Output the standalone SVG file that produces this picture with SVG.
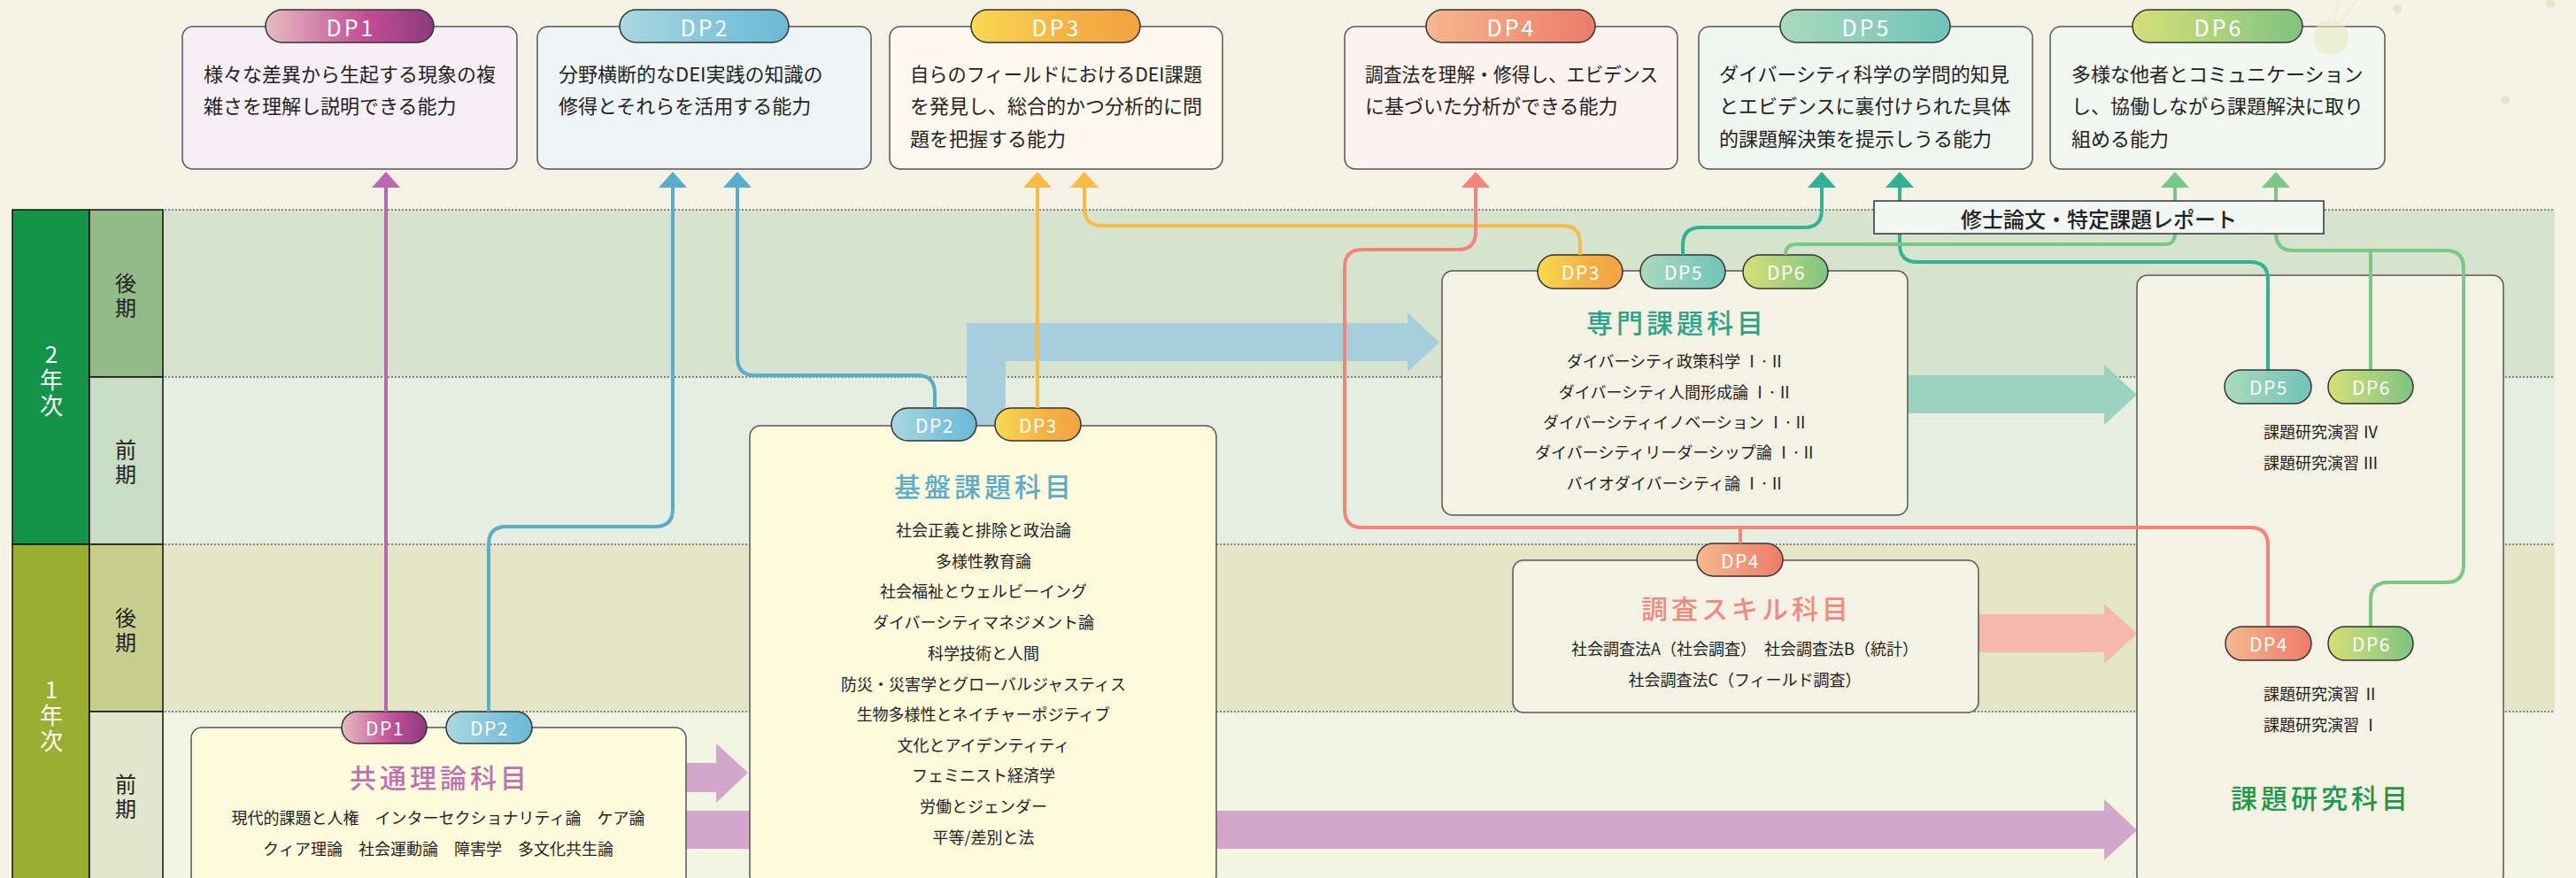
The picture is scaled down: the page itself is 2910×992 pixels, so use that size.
<svg xmlns="http://www.w3.org/2000/svg" width="2910" height="992" viewBox="0 0 2910 992">
<style>
text{font-family:"Noto Sans CJK JP","Noto Sans",sans-serif;fill:#222;dominant-baseline:central}
.dpt{font-size:22px}
.it{font-size:18px;text-anchor:middle}
.ti{font-size:30px;text-anchor:middle;letter-spacing:4px;font-weight:500}
.pt{font-size:21px;fill:#fff;text-anchor:middle;letter-spacing:1.5px}
.pt2{font-size:25px;fill:#fff;text-anchor:middle;letter-spacing:3px}
.pill{stroke:#333;stroke-width:1.5}
.box{stroke:#555;stroke-width:1.5}
.conn{fill:none;stroke-width:4}
.dot{stroke:#666;stroke-width:1.5;stroke-dasharray:2 2}
.cell{stroke:#111;stroke-width:1.5}
.yr{font-size:26px;fill:#fff;text-anchor:middle;writing-mode:vertical-rl;text-orientation:upright;letter-spacing:3px}
.sm{font-size:24px;text-anchor:middle;writing-mode:vertical-rl;text-orientation:upright;letter-spacing:4px}
</style>
<defs>
<linearGradient id="g1" x1="0" x2="1"><stop offset="0" stop-color="#e6bcc0"/><stop offset="0.6" stop-color="#c24e96"/><stop offset="1" stop-color="#8c3a80"/></linearGradient>
<linearGradient id="g2" x1="0" x2="1"><stop offset="0" stop-color="#a9d8df"/><stop offset="0.6" stop-color="#80c4dc"/><stop offset="1" stop-color="#6cb9d6"/></linearGradient>
<linearGradient id="g3" x1="0" x2="1"><stop offset="0" stop-color="#f7da52"/><stop offset="0.6" stop-color="#f5b044"/><stop offset="1" stop-color="#f2a342"/></linearGradient>
<linearGradient id="g4" x1="0" x2="1"><stop offset="0" stop-color="#f6b88e"/><stop offset="1" stop-color="#ed7b6a"/></linearGradient>
<linearGradient id="g5" x1="0" x2="1"><stop offset="0" stop-color="#abd9bd"/><stop offset="1" stop-color="#6fc4b8"/></linearGradient>
<linearGradient id="g6" x1="0" x2="1"><stop offset="0" stop-color="#d6e076"/><stop offset="1" stop-color="#7fc482"/></linearGradient>
<marker id="m1" markerUnits="userSpaceOnUse" viewBox="0 0 18 32" markerWidth="18" markerHeight="32" refX="12" refY="16" orient="auto"><path d="M0,0 L18,16 L0,32 Z" fill="#bb68b0"/></marker>
<marker id="m2" markerUnits="userSpaceOnUse" viewBox="0 0 18 32" markerWidth="18" markerHeight="32" refX="12" refY="16" orient="auto"><path d="M0,0 L18,16 L0,32 Z" fill="#5aaccb"/></marker>
<marker id="m3" markerUnits="userSpaceOnUse" viewBox="0 0 18 32" markerWidth="18" markerHeight="32" refX="12" refY="16" orient="auto"><path d="M0,0 L18,16 L0,32 Z" fill="#f8bb45"/></marker>
<marker id="m4" markerUnits="userSpaceOnUse" viewBox="0 0 18 32" markerWidth="18" markerHeight="32" refX="12" refY="16" orient="auto"><path d="M0,0 L18,16 L0,32 Z" fill="#ef857b"/></marker>
<marker id="m5" markerUnits="userSpaceOnUse" viewBox="0 0 18 32" markerWidth="18" markerHeight="32" refX="12" refY="16" orient="auto"><path d="M0,0 L18,16 L0,32 Z" fill="#2fb393"/></marker>
<marker id="m6" markerUnits="userSpaceOnUse" viewBox="0 0 18 32" markerWidth="18" markerHeight="32" refX="12" refY="16" orient="auto"><path d="M0,0 L18,16 L0,32 Z" fill="#7cc686"/></marker>
</defs>

<rect x="0" y="0" width="2910" height="992" fill="#f5f3e5"/>

<g id="timetable">
<rect x="184" y="237" width="2702" height="189" fill="#d6e3cf"/>
<rect x="184" y="426" width="2702" height="189" fill="#e6eee2"/>
<rect x="184" y="615" width="2702" height="189" fill="#e2e5c6"/>
<rect x="184" y="804" width="2702" height="190" fill="#f1f3e3"/>
<line class="dot" x1="186" y1="237" x2="2886" y2="237"/>
<line class="dot" x1="186" y1="426" x2="2886" y2="426"/>
<line class="dot" x1="186" y1="615" x2="2886" y2="615"/>
<line class="dot" x1="186" y1="804" x2="2886" y2="804"/>
<rect class="cell" x="14" y="237" width="87" height="378" fill="#14934a"/>
<rect class="cell" x="14" y="615" width="87" height="380" fill="#9aae32"/>
<rect class="cell" x="101" y="237" width="83" height="189" fill="#93bb88"/>
<rect class="cell" x="101" y="426" width="83" height="189" fill="#c9dcc4"/>
<rect class="cell" x="101" y="615" width="83" height="189" fill="#c8cf8e"/>
<rect class="cell" x="101" y="804" width="83" height="190" fill="#e2e6cc"/>
<text class="yr" x="58" y="431">2年次</text>
<text class="yr" x="58" y="810">1年次</text>
<text class="sm" x="142" y="336">後期</text>
<text class="sm" x="142" y="524">前期</text>
<text class="sm" x="142" y="714">後期</text>
<text class="sm" x="142" y="902">前期</text>
</g>

<g id="flow-arrows">
<path d="M1092,481 V365 H1590 V353 L1626,387 L1590,420 V408 H1136 V481 Z" fill="#a6cedc"/>
<path d="M2155,424 H2377 V412 L2414,446 L2377,480 V467 H2155 Z" fill="#9ad3bf"/>
<path d="M2235,694 H2377 V682 L2414,716 L2377,750 V737 H2235 Z" fill="#f6b8ad"/>
<path d="M775,862 H809 V840 L845,873 L809,907 V895 H775 Z" fill="#d3a6cc"/>
<path d="M775,916 H2377 V903 L2414,938 L2377,972 V959 H775 Z" fill="#d3a6cc"/>
</g>

<g id="dp1">
<rect class="box" x="206" y="30" width="378" height="161" rx="12" fill="#f6eff5"/>
<rect class="pill" x="300" y="11" width="190" height="37" rx="18.5" fill="url(#g1)"/>
<text class="pt2" x="396.5" y="30">DP1</text>
<text class="dpt" x="230" y="82">様々な差異から生起する現象の複</text>
<text class="dpt" x="230" y="118">雑さを理解し説明できる能力</text>
</g>
<g id="dp2">
<rect class="box" x="607" y="30" width="377" height="161" rx="12" fill="#eff5f6"/>
<rect class="pill" x="700" y="11" width="191" height="37" rx="18.5" fill="url(#g2)"/>
<text class="pt2" x="796.5" y="30">DP2</text>
<text class="dpt" x="631" y="82">分野横断的なDEI実践の知識の</text>
<text class="dpt" x="631" y="118">修得とそれらを活用する能力</text>
</g>
<g id="dp3">
<rect class="box" x="1005" y="30" width="376" height="161" rx="12" fill="#fdf9ee"/>
<rect class="pill" x="1097" y="11" width="191" height="37" rx="18.5" fill="url(#g3)"/>
<text class="pt2" x="1193.5" y="30">DP3</text>
<text class="dpt" x="1028" y="82" textLength="330" lengthAdjust="spacingAndGlyphs">自らのフィールドにおけるDEI課題</text>
<text class="dpt" x="1028" y="118">を発見し、総合的かつ分析的に問</text>
<text class="dpt" x="1028" y="155">題を把握する能力</text>
</g>
<g id="dp4">
<rect class="box" x="1519" y="30" width="376" height="161" rx="12" fill="#fdf2ee"/>
<rect class="pill" x="1611" y="11" width="191" height="37" rx="18.5" fill="url(#g4)"/>
<text class="pt2" x="1707.5" y="30">DP4</text>
<text class="dpt" x="1542" y="82" textLength="331" lengthAdjust="spacingAndGlyphs">調査法を理解・修得し、エビデンス</text>
<text class="dpt" x="1542" y="118">に基づいた分析ができる能力</text>
</g>
<g id="dp5">
<rect class="box" x="1919" y="30" width="377" height="161" rx="12" fill="#f0f6f2"/>
<rect class="pill" x="2011" y="11" width="192" height="37" rx="18.5" fill="url(#g5)"/>
<text class="pt2" x="2108.5" y="30">DP5</text>
<text class="dpt" x="1942" y="82">ダイバーシティ科学の学問的知見</text>
<text class="dpt" x="1942" y="118">とエビデンスに裏付けられた具体</text>
<text class="dpt" x="1942" y="155">的課題解決策を提示しうる能力</text>
</g>
<g id="dp6">
<rect class="box" x="2316" y="30" width="378" height="161" rx="12" fill="#f2f7f1"/>
<rect class="pill" x="2409" y="11" width="192" height="37" rx="18.5" fill="url(#g6)"/>
<text class="pt2" x="2506.5" y="30">DP6</text>
<text class="dpt" x="2340" y="82">多様な他者とコミュニケーション</text>
<text class="dpt" x="2340" y="118">し、協働しながら課題解決に取り</text>
<text class="dpt" x="2340" y="155">組める能力</text>
</g>

<g id="kyotsu">
<rect class="box" x="216" y="822" width="559" height="180" rx="12" fill="#fefcdc"/>
<rect class="pill" x="386" y="804" width="96" height="36" rx="18" fill="url(#g1)"/>
<text class="pt" x="435" y="822">DP1</text>
<rect class="pill" x="504" y="804" width="97" height="36" rx="18" fill="url(#g2)"/>
<text class="pt" x="553" y="822">DP2</text>
<text class="ti" x="497" y="877" style="fill:#c070b0">共通理論科目</text>
<text class="it" x="495" y="923">現代的課題と人権　インターセクショナリティ論　ケア論</text>
<text class="it" x="495" y="958">クィア理論　社会運動論　障害学　多文化共生論</text>
</g>

<g id="kiban">
<rect class="box" x="847" y="481" width="527" height="520" rx="12" fill="#fefbdc"/>
<rect class="pill" x="1007" y="461" width="96" height="37" rx="18.5" fill="url(#g2)"/>
<text class="pt" x="1056" y="479.5">DP2</text>
<rect class="pill" x="1124" y="461" width="97" height="37" rx="18.5" fill="url(#g3)"/>
<text class="pt" x="1173" y="479.5">DP3</text>
<text class="ti" x="1112" y="548" style="fill:#5aaccb">基盤課題科目</text>
<text class="it" x="1111" y="598">社会正義と排除と政治論</text>
<text class="it" x="1111" y="633">多様性教育論</text>
<text class="it" x="1111" y="667">社会福祉とウェルビーイング</text>
<text class="it" x="1111" y="702">ダイバーシティマネジメント論</text>
<text class="it" x="1111" y="737">科学技術と人間</text>
<text class="it" x="1111" y="772">防災・災害学とグローバルジャスティス</text>
<text class="it" x="1111" y="806">生物多様性とネイチャーポジティブ</text>
<text class="it" x="1111" y="841">文化とアイデンティティ</text>
<text class="it" x="1111" y="875">フェミニスト経済学</text>
<text class="it" x="1111" y="910">労働とジェンダー</text>
<text class="it" x="1111" y="945">平等/差別と法</text>
</g>

<g id="senmon">
<rect class="box" x="1629" y="306" width="526" height="276" rx="12" fill="#f4f2e4"/>
<rect class="pill" x="1737" y="288" width="96" height="38" rx="19" fill="url(#g3)"/>
<text class="pt" x="1786" y="307">DP3</text>
<rect class="pill" x="1853" y="288" width="96" height="38" rx="19" fill="url(#g5)"/>
<text class="pt" x="1902" y="307">DP5</text>
<rect class="pill" x="1969" y="288" width="96" height="38" rx="19" fill="url(#g6)"/>
<text class="pt" x="2018" y="307">DP6</text>
<text class="ti" x="1894" y="363" style="fill:#2aa58a">専門課題科目</text>
<text class="it" x="1893" y="407">ダイバーシティ政策科学 Ⅰ·Ⅱ</text>
<text class="it" x="1893" y="442">ダイバーシティ人間形成論 Ⅰ·Ⅱ</text>
<text class="it" x="1893" y="476">ダイバーシティイノベーション Ⅰ·Ⅱ</text>
<text class="it" x="1893" y="510">ダイバーシティリーダーシップ論 Ⅰ·Ⅱ</text>
<text class="it" x="1893" y="545">バイオダイバーシティ論 Ⅰ·Ⅱ</text>
</g>

<g id="chosa">
<rect class="box" x="1709" y="633" width="526" height="172" rx="12" fill="#f4f2e4"/>
<rect class="pill" x="1917" y="614" width="97" height="37" rx="18.5" fill="url(#g4)"/>
<text class="pt" x="1966" y="632.5">DP4</text>
<text class="ti" x="1973" y="686" style="fill:#f08a80">調査スキル科目</text>
<text class="it" x="1971" y="732">社会調査法A（社会調査）　社会調査法B（統計）</text>
<text class="it" x="1971" y="767">社会調査法C（フィールド調査）</text>
</g>

<g id="kadai">
<rect class="box" x="2414" y="311" width="414" height="690" rx="12" fill="#f4f2e4"/>
<text class="it" x="2622" y="487">課題研究演習 Ⅳ</text>
<text class="it" x="2622" y="522">課題研究演習 Ⅲ</text>
<text class="it" x="2622" y="783">課題研究演習 Ⅱ</text>
<text class="it" x="2622" y="818">課題研究演習 Ⅰ</text>
<text class="ti" x="2622" y="900" style="fill:#1a9a4a">課題研究科目</text>
</g>

<g id="connectors">
<path class="conn" stroke="#bb68b0" marker-end="url(#m1)" d="M436,804 V200"/>
<path class="conn" stroke="#5aaccb" marker-end="url(#m2)" d="M552,804 V615 Q552,595 572,595 H740 Q760,595 760,575 V200"/>
<path class="conn" stroke="#5aaccb" marker-end="url(#m2)" d="M1056,461 V444 Q1056,424 1036,424 H853 Q833,424 833,404 V200"/>
<path class="conn" stroke="#f8bb45" marker-end="url(#m3)" d="M1172,461 V200"/>
<path class="conn" stroke="#f8bb45" marker-end="url(#m3)" d="M1785,288 V275 Q1785,255 1765,255 H1245 Q1225,255 1225,235 V200"/>
<path class="conn" stroke="#ef857b" marker-end="url(#m4)" d="M2562,708 V616 Q2562,596 2542,596 H1539 Q1519,596 1519,576 V302 Q1519,282 1539,282 H1647 Q1667,282 1667,262 V200"/>
<path class="conn" stroke="#ef857b" d="M1966,614 V596"/>
<path class="conn" stroke="#2fb393" marker-end="url(#m5)" d="M1901,288 V277 Q1901,257 1921,257 H2038 Q2058,257 2058,237 V200"/>
<path class="conn" stroke="#2fb393" marker-end="url(#m5)" d="M2562,418 V316 Q2562,296 2542,296 H2166 Q2146,296 2146,276 V200"/>
<path class="conn" stroke="#7cc686" marker-end="url(#m6)" d="M2017,288 Q2017,276 2029,276 H2445 Q2457,276 2457,264 V200"/>
<path class="conn" stroke="#7cc686" marker-end="url(#m6)" d="M2678,708 V678 Q2678,658 2698,658 H2763 Q2783,658 2783,638 V303 Q2783,283 2763,283 H2591 Q2571,283 2571,263 V200"/>
<path class="conn" stroke="#7cc686" d="M2678,418 V283"/>
</g>

<g id="kadai-pills">
<rect class="pill" x="2513" y="418" width="98" height="38" rx="19" fill="url(#g5)"/>
<text class="pt" x="2563" y="437">DP5</text>
<rect class="pill" x="2630" y="418" width="96" height="38" rx="19" fill="url(#g6)"/>
<text class="pt" x="2679" y="437">DP6</text>
<rect class="pill" x="2514" y="708" width="97" height="38" rx="19" fill="url(#g4)"/>
<text class="pt" x="2563" y="727">DP4</text>
<rect class="pill" x="2630" y="708" width="96" height="38" rx="19" fill="url(#g6)"/>
<text class="pt" x="2679" y="727">DP6</text>
</g>

<g id="thesis">
<rect x="2117" y="227" width="508" height="37" fill="#f2f7f3" stroke="#333" stroke-width="1.5"/>
<text x="2371" y="246" style="font-size:24px;text-anchor:middle;font-weight:500">修士論文・特定課題レポート</text>
</g>

<g id="decoration" opacity="0.6">
<line x1="2633" y1="42" x2="2642" y2="0" stroke="#e4e6c0" stroke-width="1.5"/>
<line x1="2633" y1="42" x2="2662" y2="0" stroke="#e4e6c0" stroke-width="1.5"/>
<circle cx="2633" cy="42" r="20" fill="#e8ecc4"/>
<circle cx="2708" cy="10" r="5" fill="#d8e0b0"/>
<circle cx="2881" cy="4" r="5" fill="#d8e0b0"/>
<circle cx="2830" cy="113" r="5" fill="#d8e0b0"/>
</g>
</svg>
